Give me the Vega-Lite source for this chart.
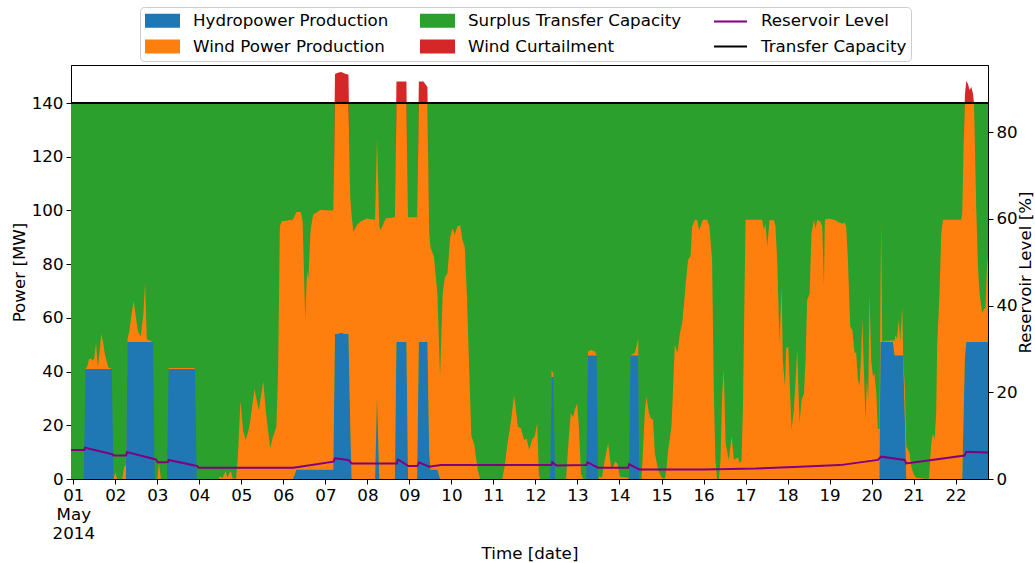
{
  "$schema": "https://vega.github.io/schema/vega-lite/v6.json",
  "width": 917,
  "height": 414,
  "autosize": {"type": "none"},
  "padding": {"left": 71, "top": 65, "right": 47, "bottom": 84},
  "background": "white",
  "datasets": {
    "production": [
      {"time": "2014-04-30T22:42", "hydro": 0, "wind": 0, "windCurtailed": 0},
      {"time": "2014-05-01T06:00", "hydro": 0, "wind": 0, "windCurtailed": 0},
      {"time": "2014-05-01T07:00", "hydro": 41, "wind": 0, "windCurtailed": 0},
      {"time": "2014-05-01T08:00", "hydro": 41, "wind": 1, "windCurtailed": 0},
      {"time": "2014-05-01T09:00", "hydro": 41, "wind": 3.5, "windCurtailed": 0},
      {"time": "2014-05-01T10:00", "hydro": 41, "wind": 4, "windCurtailed": 0},
      {"time": "2014-05-01T11:00", "hydro": 41, "wind": 3, "windCurtailed": 0},
      {"time": "2014-05-01T12:00", "hydro": 41, "wind": 4, "windCurtailed": 0},
      {"time": "2014-05-01T13:00", "hydro": 41, "wind": 9.5, "windCurtailed": 0},
      {"time": "2014-05-01T14:00", "hydro": 41, "wind": 0.5, "windCurtailed": 0},
      {"time": "2014-05-01T15:00", "hydro": 41, "wind": 6, "windCurtailed": 0},
      {"time": "2014-05-01T16:00", "hydro": 41, "wind": 13, "windCurtailed": 0},
      {"time": "2014-05-01T17:00", "hydro": 41, "wind": 10, "windCurtailed": 0},
      {"time": "2014-05-01T18:00", "hydro": 41, "wind": 5.5, "windCurtailed": 0},
      {"time": "2014-05-01T19:00", "hydro": 41, "wind": 3, "windCurtailed": 0},
      {"time": "2014-05-01T20:00", "hydro": 41, "wind": 0.5, "windCurtailed": 0},
      {"time": "2014-05-01T22:00", "hydro": 41, "wind": 0, "windCurtailed": 0},
      {"time": "2014-05-01T23:00", "hydro": 0, "wind": 0, "windCurtailed": 0},
      {"time": "2014-05-02T00:00", "hydro": 0, "wind": 2.5, "windCurtailed": 0},
      {"time": "2014-05-02T01:00", "hydro": 0, "wind": 0, "windCurtailed": 0},
      {"time": "2014-05-02T04:00", "hydro": 0, "wind": 0, "windCurtailed": 0},
      {"time": "2014-05-02T05:00", "hydro": 0, "wind": 4.5, "windCurtailed": 0},
      {"time": "2014-05-02T06:00", "hydro": 0, "wind": 5, "windCurtailed": 0},
      {"time": "2014-05-02T07:00", "hydro": 51, "wind": 1, "windCurtailed": 0},
      {"time": "2014-05-02T08:00", "hydro": 51, "wind": 4, "windCurtailed": 0},
      {"time": "2014-05-02T09:00", "hydro": 51, "wind": 9, "windCurtailed": 0},
      {"time": "2014-05-02T10:30", "hydro": 51, "wind": 15.4, "windCurtailed": 0},
      {"time": "2014-05-02T12:00", "hydro": 51, "wind": 8, "windCurtailed": 0},
      {"time": "2014-05-02T13:00", "hydro": 51, "wind": 4, "windCurtailed": 0},
      {"time": "2014-05-02T14:30", "hydro": 51, "wind": 2, "windCurtailed": 0},
      {"time": "2014-05-02T16:00", "hydro": 51, "wind": 10, "windCurtailed": 0},
      {"time": "2014-05-02T17:00", "hydro": 51, "wind": 22, "windCurtailed": 0},
      {"time": "2014-05-02T18:00", "hydro": 51, "wind": 1, "windCurtailed": 0},
      {"time": "2014-05-02T21:30", "hydro": 51, "wind": 0, "windCurtailed": 0},
      {"time": "2014-05-02T22:30", "hydro": 0, "wind": 0, "windCurtailed": 0},
      {"time": "2014-05-03T00:00", "hydro": 0, "wind": 0, "windCurtailed": 0},
      {"time": "2014-05-03T01:00", "hydro": 0, "wind": 6, "windCurtailed": 0},
      {"time": "2014-05-03T02:00", "hydro": 0, "wind": 0, "windCurtailed": 0},
      {"time": "2014-05-03T05:30", "hydro": 0, "wind": 0, "windCurtailed": 0},
      {"time": "2014-05-03T06:30", "hydro": 41, "wind": 0.3, "windCurtailed": 0},
      {"time": "2014-05-03T21:30", "hydro": 41, "wind": 0.3, "windCurtailed": 0},
      {"time": "2014-05-03T22:30", "hydro": 0, "wind": 0, "windCurtailed": 0},
      {"time": "2014-05-04T11:00", "hydro": 0, "wind": 0, "windCurtailed": 0},
      {"time": "2014-05-04T12:00", "hydro": 0, "wind": 1, "windCurtailed": 0},
      {"time": "2014-05-04T13:00", "hydro": 0, "wind": 0.3, "windCurtailed": 0},
      {"time": "2014-05-04T14:00", "hydro": 0, "wind": 1.5, "windCurtailed": 0},
      {"time": "2014-05-04T15:00", "hydro": 0, "wind": 3, "windCurtailed": 0},
      {"time": "2014-05-04T16:00", "hydro": 0, "wind": 0.5, "windCurtailed": 0},
      {"time": "2014-05-04T17:00", "hydro": 0, "wind": 2, "windCurtailed": 0},
      {"time": "2014-05-04T18:00", "hydro": 0, "wind": 3, "windCurtailed": 0},
      {"time": "2014-05-04T19:00", "hydro": 0, "wind": 0.3, "windCurtailed": 0},
      {"time": "2014-05-04T21:00", "hydro": 0, "wind": 0, "windCurtailed": 0},
      {"time": "2014-05-04T22:00", "hydro": 0, "wind": 8, "windCurtailed": 0},
      {"time": "2014-05-04T23:30", "hydro": 0, "wind": 29, "windCurtailed": 0},
      {"time": "2014-05-05T01:00", "hydro": 0, "wind": 18, "windCurtailed": 0},
      {"time": "2014-05-05T02:30", "hydro": 0, "wind": 14.5, "windCurtailed": 0},
      {"time": "2014-05-05T04:00", "hydro": 0, "wind": 18, "windCurtailed": 0},
      {"time": "2014-05-05T05:00", "hydro": 0, "wind": 21, "windCurtailed": 0},
      {"time": "2014-05-05T07:30", "hydro": 0, "wind": 33.5, "windCurtailed": 0},
      {"time": "2014-05-05T10:00", "hydro": 0, "wind": 25.5, "windCurtailed": 0},
      {"time": "2014-05-05T12:30", "hydro": 0, "wind": 36.5, "windCurtailed": 0},
      {"time": "2014-05-05T14:00", "hydro": 0, "wind": 25, "windCurtailed": 0},
      {"time": "2014-05-05T16:30", "hydro": 0, "wind": 11.5, "windCurtailed": 0},
      {"time": "2014-05-05T18:00", "hydro": 0, "wind": 15.5, "windCurtailed": 0},
      {"time": "2014-05-05T20:00", "hydro": 0, "wind": 19.5, "windCurtailed": 0},
      {"time": "2014-05-05T21:00", "hydro": 0, "wind": 40, "windCurtailed": 0},
      {"time": "2014-05-05T22:00", "hydro": 0, "wind": 94, "windCurtailed": 0},
      {"time": "2014-05-05T23:00", "hydro": 0, "wind": 96, "windCurtailed": 0},
      {"time": "2014-05-06T05:30", "hydro": 0, "wind": 96.5, "windCurtailed": 0},
      {"time": "2014-05-06T07:30", "hydro": 3.4, "wind": 96, "windCurtailed": 0},
      {"time": "2014-05-06T10:00", "hydro": 3.4, "wind": 96, "windCurtailed": 0},
      {"time": "2014-05-06T11:00", "hydro": 3.4, "wind": 92.6, "windCurtailed": 0},
      {"time": "2014-05-06T12:30", "hydro": 3.4, "wind": 56, "windCurtailed": 0},
      {"time": "2014-05-06T13:30", "hydro": 3.4, "wind": 74, "windCurtailed": 0},
      {"time": "2014-05-06T14:18", "hydro": 3.4, "wind": 71, "windCurtailed": 0},
      {"time": "2014-05-06T15:30", "hydro": 3.4, "wind": 89, "windCurtailed": 0},
      {"time": "2014-05-06T17:00", "hydro": 3.4, "wind": 95, "windCurtailed": 0},
      {"time": "2014-05-06T21:00", "hydro": 3.4, "wind": 96.8, "windCurtailed": 0},
      {"time": "2014-05-07T04:30", "hydro": 3.4, "wind": 96.6, "windCurtailed": 0},
      {"time": "2014-05-07T05:30", "hydro": 54, "wind": 86, "windCurtailed": 10.8},
      {"time": "2014-05-07T07:00", "hydro": 54, "wind": 86, "windCurtailed": 11.3},
      {"time": "2014-05-07T09:00", "hydro": 54.5, "wind": 85.5, "windCurtailed": 11.5},
      {"time": "2014-05-07T11:00", "hydro": 54, "wind": 86, "windCurtailed": 11},
      {"time": "2014-05-07T13:12", "hydro": 54, "wind": 86, "windCurtailed": 10.5},
      {"time": "2014-05-07T14:12", "hydro": 20, "wind": 85, "windCurtailed": 0},
      {"time": "2014-05-07T15:00", "hydro": 0, "wind": 98, "windCurtailed": 0},
      {"time": "2014-05-07T16:00", "hydro": 0, "wind": 92, "windCurtailed": 0},
      {"time": "2014-05-07T18:00", "hydro": 0, "wind": 94.6, "windCurtailed": 0},
      {"time": "2014-05-07T20:00", "hydro": 0, "wind": 95.8, "windCurtailed": 0},
      {"time": "2014-05-07T23:30", "hydro": 0, "wind": 97, "windCurtailed": 0},
      {"time": "2014-05-08T04:24", "hydro": 0, "wind": 96.5, "windCurtailed": 0},
      {"time": "2014-05-08T05:30", "hydro": 30.6, "wind": 96.2, "windCurtailed": 0},
      {"time": "2014-05-08T06:48", "hydro": 0, "wind": 94, "windCurtailed": 0},
      {"time": "2014-05-08T07:36", "hydro": 0, "wind": 92.7, "windCurtailed": 0},
      {"time": "2014-05-08T10:30", "hydro": 0, "wind": 97, "windCurtailed": 0},
      {"time": "2014-05-08T15:42", "hydro": 0, "wind": 97.5, "windCurtailed": 0},
      {"time": "2014-05-08T16:36", "hydro": 51, "wind": 89, "windCurtailed": 8},
      {"time": "2014-05-08T22:18", "hydro": 51, "wind": 89, "windCurtailed": 8},
      {"time": "2014-05-08T23:12", "hydro": 0, "wind": 97.5, "windCurtailed": 0},
      {"time": "2014-05-09T04:24", "hydro": 0, "wind": 97.5, "windCurtailed": 0},
      {"time": "2014-05-09T05:24", "hydro": 51, "wind": 89, "windCurtailed": 8},
      {"time": "2014-05-09T08:00", "hydro": 51, "wind": 89, "windCurtailed": 8},
      {"time": "2014-05-09T10:18", "hydro": 51, "wind": 89, "windCurtailed": 6},
      {"time": "2014-05-09T11:18", "hydro": 10, "wind": 82, "windCurtailed": 0},
      {"time": "2014-05-09T12:00", "hydro": 3.4, "wind": 83, "windCurtailed": 0},
      {"time": "2014-05-09T14:00", "hydro": 3.4, "wind": 79.4, "windCurtailed": 0},
      {"time": "2014-05-09T16:00", "hydro": 3.4, "wind": 65.7, "windCurtailed": 0},
      {"time": "2014-05-09T17:30", "hydro": 0, "wind": 38, "windCurtailed": 0},
      {"time": "2014-05-09T19:00", "hydro": 0, "wind": 69, "windCurtailed": 0},
      {"time": "2014-05-09T20:12", "hydro": 0, "wind": 75, "windCurtailed": 0},
      {"time": "2014-05-09T21:42", "hydro": 0, "wind": 76.5, "windCurtailed": 0},
      {"time": "2014-05-09T23:18", "hydro": 0, "wind": 90, "windCurtailed": 0},
      {"time": "2014-05-10T00:36", "hydro": 0, "wind": 93.3, "windCurtailed": 0},
      {"time": "2014-05-10T02:00", "hydro": 0, "wind": 91, "windCurtailed": 0},
      {"time": "2014-05-10T03:24", "hydro": 0, "wind": 94, "windCurtailed": 0},
      {"time": "2014-05-10T05:00", "hydro": 0, "wind": 94.6, "windCurtailed": 0},
      {"time": "2014-05-10T06:18", "hydro": 0, "wind": 89, "windCurtailed": 0},
      {"time": "2014-05-10T07:36", "hydro": 0, "wind": 86.5, "windCurtailed": 0},
      {"time": "2014-05-10T08:48", "hydro": 0, "wind": 69, "windCurtailed": 0},
      {"time": "2014-05-10T10:00", "hydro": 0, "wind": 44, "windCurtailed": 0},
      {"time": "2014-05-10T11:24", "hydro": 0, "wind": 16, "windCurtailed": 0},
      {"time": "2014-05-10T13:00", "hydro": 0, "wind": 13, "windCurtailed": 0},
      {"time": "2014-05-10T15:00", "hydro": 0, "wind": 3.4, "windCurtailed": 0},
      {"time": "2014-05-10T16:24", "hydro": 0, "wind": 0, "windCurtailed": 0},
      {"time": "2014-05-11T05:00", "hydro": 0, "wind": 0, "windCurtailed": 0},
      {"time": "2014-05-11T06:30", "hydro": 0, "wind": 5, "windCurtailed": 0},
      {"time": "2014-05-11T08:00", "hydro": 0, "wind": 13, "windCurtailed": 0},
      {"time": "2014-05-11T10:00", "hydro": 0, "wind": 21.3, "windCurtailed": 0},
      {"time": "2014-05-11T11:48", "hydro": 0, "wind": 31.3, "windCurtailed": 0},
      {"time": "2014-05-11T14:00", "hydro": 0, "wind": 19.5, "windCurtailed": 0},
      {"time": "2014-05-11T15:36", "hydro": 0, "wind": 19, "windCurtailed": 0},
      {"time": "2014-05-11T17:30", "hydro": 0, "wind": 14.5, "windCurtailed": 0},
      {"time": "2014-05-11T19:00", "hydro": 0, "wind": 15, "windCurtailed": 0},
      {"time": "2014-05-11T20:24", "hydro": 0, "wind": 10.8, "windCurtailed": 0},
      {"time": "2014-05-11T22:00", "hydro": 0, "wind": 14.5, "windCurtailed": 0},
      {"time": "2014-05-11T23:36", "hydro": 0, "wind": 16, "windCurtailed": 0},
      {"time": "2014-05-12T01:00", "hydro": 0, "wind": 20.7, "windCurtailed": 0},
      {"time": "2014-05-12T02:00", "hydro": 0, "wind": 1, "windCurtailed": 0},
      {"time": "2014-05-12T03:00", "hydro": 0, "wind": 0, "windCurtailed": 0},
      {"time": "2014-05-12T08:24", "hydro": 0, "wind": 0, "windCurtailed": 0},
      {"time": "2014-05-12T09:12", "hydro": 38, "wind": 2.5, "windCurtailed": 0},
      {"time": "2014-05-12T10:12", "hydro": 38, "wind": 1.5, "windCurtailed": 0},
      {"time": "2014-05-12T11:12", "hydro": 0, "wind": 0, "windCurtailed": 0},
      {"time": "2014-05-12T17:30", "hydro": 0, "wind": 0, "windCurtailed": 0},
      {"time": "2014-05-12T19:00", "hydro": 0, "wind": 15, "windCurtailed": 0},
      {"time": "2014-05-12T20:12", "hydro": 0, "wind": 24.5, "windCurtailed": 0},
      {"time": "2014-05-12T21:30", "hydro": 0, "wind": 23, "windCurtailed": 0},
      {"time": "2014-05-12T22:30", "hydro": 0, "wind": 25.7, "windCurtailed": 0},
      {"time": "2014-05-12T23:48", "hydro": 0, "wind": 28.2, "windCurtailed": 0},
      {"time": "2014-05-13T00:48", "hydro": 0, "wind": 19.5, "windCurtailed": 0},
      {"time": "2014-05-13T02:00", "hydro": 0, "wind": 2, "windCurtailed": 0},
      {"time": "2014-05-13T03:12", "hydro": 0, "wind": 0, "windCurtailed": 0},
      {"time": "2014-05-13T05:00", "hydro": 0, "wind": 0, "windCurtailed": 0},
      {"time": "2014-05-13T06:00", "hydro": 46, "wind": 1.5, "windCurtailed": 0},
      {"time": "2014-05-13T08:00", "hydro": 46, "wind": 2, "windCurtailed": 0},
      {"time": "2014-05-13T10:00", "hydro": 46, "wind": 1.5, "windCurtailed": 0},
      {"time": "2014-05-13T10:54", "hydro": 46, "wind": 0, "windCurtailed": 0},
      {"time": "2014-05-13T11:48", "hydro": 0, "wind": 0, "windCurtailed": 0},
      {"time": "2014-05-13T12:30", "hydro": 0, "wind": 0.8, "windCurtailed": 0},
      {"time": "2014-05-13T14:00", "hydro": 0, "wind": 0.5, "windCurtailed": 0},
      {"time": "2014-05-13T15:36", "hydro": 0, "wind": 7, "windCurtailed": 0},
      {"time": "2014-05-13T17:30", "hydro": 0, "wind": 13.3, "windCurtailed": 0},
      {"time": "2014-05-13T19:24", "hydro": 0, "wind": 3.4, "windCurtailed": 0},
      {"time": "2014-05-13T20:24", "hydro": 0, "wind": 4.6, "windCurtailed": 0},
      {"time": "2014-05-13T21:42", "hydro": 0, "wind": 6.5, "windCurtailed": 0},
      {"time": "2014-05-13T22:48", "hydro": 0, "wind": 5.8, "windCurtailed": 0},
      {"time": "2014-05-14T00:12", "hydro": 0, "wind": 0.8, "windCurtailed": 0},
      {"time": "2014-05-14T05:00", "hydro": 0, "wind": 0.5, "windCurtailed": 0},
      {"time": "2014-05-14T05:30", "hydro": 0, "wind": 0, "windCurtailed": 0},
      {"time": "2014-05-14T06:18", "hydro": 46, "wind": 0, "windCurtailed": 0},
      {"time": "2014-05-14T08:48", "hydro": 46, "wind": 1, "windCurtailed": 0},
      {"time": "2014-05-14T09:42", "hydro": 46, "wind": 3.3, "windCurtailed": 0},
      {"time": "2014-05-14T10:42", "hydro": 46, "wind": 6.4, "windCurtailed": 0},
      {"time": "2014-05-14T11:18", "hydro": 0, "wind": 0, "windCurtailed": 0},
      {"time": "2014-05-14T12:36", "hydro": 0, "wind": 0, "windCurtailed": 0},
      {"time": "2014-05-14T14:30", "hydro": 0, "wind": 25, "windCurtailed": 0},
      {"time": "2014-05-14T15:24", "hydro": 0, "wind": 30.6, "windCurtailed": 0},
      {"time": "2014-05-14T16:48", "hydro": 0, "wind": 24.5, "windCurtailed": 0},
      {"time": "2014-05-14T17:54", "hydro": 0, "wind": 22.6, "windCurtailed": 0},
      {"time": "2014-05-14T19:12", "hydro": 0, "wind": 22, "windCurtailed": 0},
      {"time": "2014-05-14T20:12", "hydro": 0, "wind": 9.6, "windCurtailed": 0},
      {"time": "2014-05-14T22:06", "hydro": 0, "wind": 3.4, "windCurtailed": 0},
      {"time": "2014-05-15T00:00", "hydro": 0, "wind": 0.6, "windCurtailed": 0},
      {"time": "2014-05-15T01:54", "hydro": 0, "wind": 0, "windCurtailed": 0},
      {"time": "2014-05-15T02:48", "hydro": 0, "wind": 3.4, "windCurtailed": 0},
      {"time": "2014-05-15T03:48", "hydro": 0, "wind": 10.8, "windCurtailed": 0},
      {"time": "2014-05-15T05:42", "hydro": 0, "wind": 19.5, "windCurtailed": 0},
      {"time": "2014-05-15T07:36", "hydro": 0, "wind": 49.9, "windCurtailed": 0},
      {"time": "2014-05-15T09:06", "hydro": 0, "wind": 47, "windCurtailed": 0},
      {"time": "2014-05-15T10:30", "hydro": 0, "wind": 54.2, "windCurtailed": 0},
      {"time": "2014-05-15T11:48", "hydro": 0, "wind": 58, "windCurtailed": 0},
      {"time": "2014-05-15T13:00", "hydro": 0, "wind": 66, "windCurtailed": 0},
      {"time": "2014-05-15T13:42", "hydro": 0, "wind": 72, "windCurtailed": 0},
      {"time": "2014-05-15T15:12", "hydro": 0, "wind": 81.5, "windCurtailed": 0},
      {"time": "2014-05-15T16:36", "hydro": 0, "wind": 83, "windCurtailed": 0},
      {"time": "2014-05-15T17:30", "hydro": 0, "wind": 94, "windCurtailed": 0},
      {"time": "2014-05-15T19:06", "hydro": 0, "wind": 96.5, "windCurtailed": 0},
      {"time": "2014-05-15T20:24", "hydro": 0, "wind": 96.3, "windCurtailed": 0},
      {"time": "2014-05-15T21:24", "hydro": 0, "wind": 92.7, "windCurtailed": 0},
      {"time": "2014-05-15T22:18", "hydro": 0, "wind": 94, "windCurtailed": 0},
      {"time": "2014-05-15T23:36", "hydro": 0, "wind": 96.5, "windCurtailed": 0},
      {"time": "2014-05-16T02:06", "hydro": 0, "wind": 96.5, "windCurtailed": 0},
      {"time": "2014-05-16T03:24", "hydro": 0, "wind": 94, "windCurtailed": 0},
      {"time": "2014-05-16T04:54", "hydro": 0, "wind": 81.5, "windCurtailed": 0},
      {"time": "2014-05-16T05:54", "hydro": 0, "wind": 31.9, "windCurtailed": 0},
      {"time": "2014-05-16T06:48", "hydro": 0, "wind": 7, "windCurtailed": 0},
      {"time": "2014-05-16T07:48", "hydro": 0, "wind": 0, "windCurtailed": 0},
      {"time": "2014-05-16T08:48", "hydro": 0, "wind": 0, "windCurtailed": 0},
      {"time": "2014-05-16T09:42", "hydro": 0, "wind": 7, "windCurtailed": 0},
      {"time": "2014-05-16T10:42", "hydro": 0, "wind": 31.9, "windCurtailed": 0},
      {"time": "2014-05-16T11:36", "hydro": 0, "wind": 40.6, "windCurtailed": 0},
      {"time": "2014-05-16T12:36", "hydro": 0, "wind": 13.3, "windCurtailed": 0},
      {"time": "2014-05-16T14:30", "hydro": 0, "wind": 7, "windCurtailed": 0},
      {"time": "2014-05-16T16:00", "hydro": 0, "wind": 15.8, "windCurtailed": 0},
      {"time": "2014-05-16T17:24", "hydro": 0, "wind": 7.2, "windCurtailed": 0},
      {"time": "2014-05-16T18:18", "hydro": 0, "wind": 7.5, "windCurtailed": 0},
      {"time": "2014-05-16T19:48", "hydro": 0, "wind": 8, "windCurtailed": 0},
      {"time": "2014-05-16T20:36", "hydro": 0, "wind": 5.8, "windCurtailed": 0},
      {"time": "2014-05-16T21:42", "hydro": 0, "wind": 7, "windCurtailed": 0},
      {"time": "2014-05-16T22:30", "hydro": 0, "wind": 25.7, "windCurtailed": 0},
      {"time": "2014-05-17T00:00", "hydro": 0, "wind": 96.5, "windCurtailed": 0},
      {"time": "2014-05-17T09:30", "hydro": 0, "wind": 96.5, "windCurtailed": 0},
      {"time": "2014-05-17T10:30", "hydro": 0, "wind": 92.7, "windCurtailed": 0},
      {"time": "2014-05-17T11:24", "hydro": 0, "wind": 95, "windCurtailed": 0},
      {"time": "2014-05-17T12:24", "hydro": 0, "wind": 86.5, "windCurtailed": 0},
      {"time": "2014-05-17T13:42", "hydro": 0, "wind": 96.3, "windCurtailed": 0},
      {"time": "2014-05-17T16:12", "hydro": 0, "wind": 96.3, "windCurtailed": 0},
      {"time": "2014-05-17T17:06", "hydro": 0, "wind": 94, "windCurtailed": 0},
      {"time": "2014-05-17T18:06", "hydro": 0, "wind": 81.5, "windCurtailed": 0},
      {"time": "2014-05-17T19:24", "hydro": 0, "wind": 50.5, "windCurtailed": 0},
      {"time": "2014-05-17T20:36", "hydro": 0, "wind": 71.6, "windCurtailed": 0},
      {"time": "2014-05-17T21:18", "hydro": 0, "wind": 44.3, "windCurtailed": 0},
      {"time": "2014-05-17T22:30", "hydro": 0, "wind": 34.4, "windCurtailed": 0},
      {"time": "2014-05-17T23:12", "hydro": 0, "wind": 48.7, "windCurtailed": 0},
      {"time": "2014-05-18T00:24", "hydro": 0, "wind": 49.3, "windCurtailed": 0},
      {"time": "2014-05-18T01:06", "hydro": 0, "wind": 38.1, "windCurtailed": 0},
      {"time": "2014-05-18T02:18", "hydro": 0, "wind": 18.2, "windCurtailed": 0},
      {"time": "2014-05-18T03:36", "hydro": 0, "wind": 25.7, "windCurtailed": 0},
      {"time": "2014-05-18T04:36", "hydro": 0, "wind": 37.1, "windCurtailed": 0},
      {"time": "2014-05-18T05:30", "hydro": 0, "wind": 48, "windCurtailed": 0},
      {"time": "2014-05-18T06:54", "hydro": 0, "wind": 20.7, "windCurtailed": 0},
      {"time": "2014-05-18T08:00", "hydro": 0, "wind": 29.4, "windCurtailed": 0},
      {"time": "2014-05-18T09:24", "hydro": 0, "wind": 31.9, "windCurtailed": 0},
      {"time": "2014-05-18T10:18", "hydro": 0, "wind": 44.3, "windCurtailed": 0},
      {"time": "2014-05-18T11:12", "hydro": 0, "wind": 66.6, "windCurtailed": 0},
      {"time": "2014-05-18T12:36", "hydro": 0, "wind": 69, "windCurtailed": 0},
      {"time": "2014-05-18T13:42", "hydro": 0, "wind": 91.5, "windCurtailed": 0},
      {"time": "2014-05-18T15:06", "hydro": 0, "wind": 96.5, "windCurtailed": 0},
      {"time": "2014-05-18T16:00", "hydro": 0, "wind": 93.3, "windCurtailed": 0},
      {"time": "2014-05-18T17:00", "hydro": 0, "wind": 96.5, "windCurtailed": 0},
      {"time": "2014-05-18T18:48", "hydro": 0, "wind": 95.8, "windCurtailed": 0},
      {"time": "2014-05-18T19:48", "hydro": 0, "wind": 94, "windCurtailed": 0},
      {"time": "2014-05-18T20:48", "hydro": 0, "wind": 71.6, "windCurtailed": 0},
      {"time": "2014-05-18T21:18", "hydro": 0, "wind": 96.5, "windCurtailed": 0},
      {"time": "2014-05-18T23:36", "hydro": 0, "wind": 97, "windCurtailed": 0},
      {"time": "2014-05-19T03:24", "hydro": 0, "wind": 96.3, "windCurtailed": 0},
      {"time": "2014-05-19T05:18", "hydro": 0, "wind": 95.5, "windCurtailed": 0},
      {"time": "2014-05-19T07:36", "hydro": 0, "wind": 95, "windCurtailed": 0},
      {"time": "2014-05-19T08:36", "hydro": 0, "wind": 95.5, "windCurtailed": 0},
      {"time": "2014-05-19T09:30", "hydro": 0, "wind": 94, "windCurtailed": 0},
      {"time": "2014-05-19T10:30", "hydro": 0, "wind": 81.5, "windCurtailed": 0},
      {"time": "2014-05-19T11:48", "hydro": 0, "wind": 56.7, "windCurtailed": 0},
      {"time": "2014-05-19T13:00", "hydro": 0, "wind": 55.5, "windCurtailed": 0},
      {"time": "2014-05-19T14:18", "hydro": 0, "wind": 47, "windCurtailed": 0},
      {"time": "2014-05-19T15:12", "hydro": 0, "wind": 47, "windCurtailed": 0},
      {"time": "2014-05-19T16:12", "hydro": 0, "wind": 37.1, "windCurtailed": 0},
      {"time": "2014-05-19T17:06", "hydro": 0, "wind": 34.4, "windCurtailed": 0},
      {"time": "2014-05-19T18:06", "hydro": 0, "wind": 47, "windCurtailed": 0},
      {"time": "2014-05-19T18:42", "hydro": 0, "wind": 59.8, "windCurtailed": 0},
      {"time": "2014-05-19T19:24", "hydro": 0, "wind": 44.3, "windCurtailed": 0},
      {"time": "2014-05-19T20:36", "hydro": 0, "wind": 22, "windCurtailed": 0},
      {"time": "2014-05-19T21:18", "hydro": 0, "wind": 37.1, "windCurtailed": 0},
      {"time": "2014-05-19T22:06", "hydro": 0, "wind": 29.4, "windCurtailed": 0},
      {"time": "2014-05-19T22:48", "hydro": 0, "wind": 69, "windCurtailed": 0},
      {"time": "2014-05-19T23:48", "hydro": 0, "wind": 44.3, "windCurtailed": 0},
      {"time": "2014-05-20T00:48", "hydro": 0, "wind": 38.1, "windCurtailed": 0},
      {"time": "2014-05-20T01:42", "hydro": 0, "wind": 39.3, "windCurtailed": 0},
      {"time": "2014-05-20T02:42", "hydro": 0, "wind": 31.9, "windCurtailed": 0},
      {"time": "2014-05-20T03:36", "hydro": 0, "wind": 18.2, "windCurtailed": 0},
      {"time": "2014-05-20T04:30", "hydro": 0, "wind": 19, "windCurtailed": 0},
      {"time": "2014-05-20T05:06", "hydro": 51, "wind": 20, "windCurtailed": 0},
      {"time": "2014-05-20T05:30", "hydro": 51, "wind": 44, "windCurtailed": 0},
      {"time": "2014-05-20T06:06", "hydro": 51, "wind": 0, "windCurtailed": 0},
      {"time": "2014-05-20T08:00", "hydro": 51, "wind": 0.5, "windCurtailed": 0},
      {"time": "2014-05-20T12:12", "hydro": 51, "wind": 0.6, "windCurtailed": 0},
      {"time": "2014-05-20T13:06", "hydro": 46, "wind": 5.6, "windCurtailed": 0},
      {"time": "2014-05-20T13:42", "hydro": 46, "wind": 7.6, "windCurtailed": 0},
      {"time": "2014-05-20T14:30", "hydro": 46, "wind": 6, "windCurtailed": 0},
      {"time": "2014-05-20T15:36", "hydro": 46, "wind": 13.2, "windCurtailed": 0},
      {"time": "2014-05-20T16:24", "hydro": 46, "wind": 5, "windCurtailed": 0},
      {"time": "2014-05-20T17:30", "hydro": 46, "wind": 18.2, "windCurtailed": 0},
      {"time": "2014-05-20T18:00", "hydro": 46, "wind": 1, "windCurtailed": 0},
      {"time": "2014-05-20T19:06", "hydro": 20, "wind": 12, "windCurtailed": 0},
      {"time": "2014-05-20T19:48", "hydro": 0, "wind": 12, "windCurtailed": 0},
      {"time": "2014-05-20T20:48", "hydro": 0, "wind": 11, "windCurtailed": 0},
      {"time": "2014-05-20T21:42", "hydro": 0, "wind": 9.6, "windCurtailed": 0},
      {"time": "2014-05-20T22:42", "hydro": 0, "wind": 4.6, "windCurtailed": 0},
      {"time": "2014-05-21T00:00", "hydro": 0, "wind": 1.9, "windCurtailed": 0},
      {"time": "2014-05-21T01:30", "hydro": 0, "wind": 0.5, "windCurtailed": 0},
      {"time": "2014-05-21T08:48", "hydro": 0, "wind": 0, "windCurtailed": 0},
      {"time": "2014-05-21T10:06", "hydro": 0, "wind": 13.3, "windCurtailed": 0},
      {"time": "2014-05-21T11:06", "hydro": 0, "wind": 17, "windCurtailed": 0},
      {"time": "2014-05-21T12:00", "hydro": 0, "wind": 14.5, "windCurtailed": 0},
      {"time": "2014-05-21T12:54", "hydro": 0, "wind": 24.5, "windCurtailed": 0},
      {"time": "2014-05-21T13:30", "hydro": 0, "wind": 50.5, "windCurtailed": 0},
      {"time": "2014-05-21T14:48", "hydro": 0, "wind": 69, "windCurtailed": 0},
      {"time": "2014-05-21T15:48", "hydro": 0, "wind": 91.5, "windCurtailed": 0},
      {"time": "2014-05-21T16:48", "hydro": 0, "wind": 96.5, "windCurtailed": 0},
      {"time": "2014-05-22T03:12", "hydro": 0, "wind": 96.5, "windCurtailed": 0},
      {"time": "2014-05-22T03:48", "hydro": 0, "wind": 98.7, "windCurtailed": 0},
      {"time": "2014-05-22T04:36", "hydro": 25, "wind": 100, "windCurtailed": 0},
      {"time": "2014-05-22T05:18", "hydro": 45, "wind": 95, "windCurtailed": 3},
      {"time": "2014-05-22T06:06", "hydro": 51, "wind": 89, "windCurtailed": 8.3},
      {"time": "2014-05-22T07:06", "hydro": 51, "wind": 89, "windCurtailed": 7},
      {"time": "2014-05-22T08:00", "hydro": 51, "wind": 89, "windCurtailed": 4.8},
      {"time": "2014-05-22T09:00", "hydro": 51, "wind": 89, "windCurtailed": 6},
      {"time": "2014-05-22T09:54", "hydro": 51, "wind": 89, "windCurtailed": 3.5},
      {"time": "2014-05-22T10:30", "hydro": 51, "wind": 89, "windCurtailed": 0},
      {"time": "2014-05-22T10:48", "hydro": 51, "wind": 80.2, "windCurtailed": 0},
      {"time": "2014-05-22T11:48", "hydro": 51, "wind": 49.2, "windCurtailed": 0},
      {"time": "2014-05-22T12:48", "hydro": 51, "wind": 28, "windCurtailed": 0},
      {"time": "2014-05-22T13:42", "hydro": 51, "wind": 18, "windCurtailed": 0},
      {"time": "2014-05-22T15:12", "hydro": 51, "wind": 10.7, "windCurtailed": 0},
      {"time": "2014-05-22T16:00", "hydro": 51, "wind": 12, "windCurtailed": 0},
      {"time": "2014-05-22T17:06", "hydro": 51, "wind": 13, "windCurtailed": 0},
      {"time": "2014-05-22T17:54", "hydro": 51, "wind": 28, "windCurtailed": 0},
      {"time": "2014-05-22T18:30", "hydro": 51, "wind": 31.8, "windCurtailed": 0}
    ],
    "capacity": [
      {"time": "2014-04-30T22:42", "capacity": 140},
      {"time": "2014-05-22T18:30", "capacity": 140}
    ],
    "reservoir": [
      {"time": "2014-04-30T22:42", "level": 6.7},
      {"time": "2014-05-01T06:18", "level": 6.7},
      {"time": "2014-05-01T06:42", "level": 7.2},
      {"time": "2014-05-01T22:30", "level": 5.7},
      {"time": "2014-05-01T22:54", "level": 5.4},
      {"time": "2014-05-02T06:06", "level": 5.4},
      {"time": "2014-05-02T06:42", "level": 6.2},
      {"time": "2014-05-02T23:12", "level": 4.5},
      {"time": "2014-05-03T00:12", "level": 3.85},
      {"time": "2014-05-03T05:54", "level": 3.85},
      {"time": "2014-05-03T06:30", "level": 4.4},
      {"time": "2014-05-03T22:42", "level": 3.0},
      {"time": "2014-05-03T23:36", "level": 2.6},
      {"time": "2014-05-06T05:42", "level": 2.6},
      {"time": "2014-05-07T04:36", "level": 4.0},
      {"time": "2014-05-07T05:30", "level": 4.76},
      {"time": "2014-05-07T13:06", "level": 4.4},
      {"time": "2014-05-07T15:06", "level": 3.6},
      {"time": "2014-05-08T16:48", "level": 3.6},
      {"time": "2014-05-08T17:30", "level": 4.5},
      {"time": "2014-05-08T23:24", "level": 3.0},
      {"time": "2014-05-09T04:36", "level": 3.0},
      {"time": "2014-05-09T05:24", "level": 3.84},
      {"time": "2014-05-09T11:18", "level": 2.84},
      {"time": "2014-05-09T18:00", "level": 3.2},
      {"time": "2014-05-12T09:12", "level": 3.2},
      {"time": "2014-05-12T09:42", "level": 3.84},
      {"time": "2014-05-12T11:54", "level": 3.1},
      {"time": "2014-05-13T05:06", "level": 3.2},
      {"time": "2014-05-13T05:42", "level": 3.84},
      {"time": "2014-05-13T11:48", "level": 2.6},
      {"time": "2014-05-14T05:00", "level": 2.6},
      {"time": "2014-05-14T05:30", "level": 3.4},
      {"time": "2014-05-14T11:18", "level": 2.2},
      {"time": "2014-05-16T00:00", "level": 2.2},
      {"time": "2014-05-17T06:00", "level": 2.4},
      {"time": "2014-05-18T07:00", "level": 2.8},
      {"time": "2014-05-19T06:00", "level": 3.2},
      {"time": "2014-05-20T03:36", "level": 4.4},
      {"time": "2014-05-20T05:30", "level": 5.15},
      {"time": "2014-05-20T18:54", "level": 4.4},
      {"time": "2014-05-20T19:48", "level": 3.6},
      {"time": "2014-05-22T05:06", "level": 5.4},
      {"time": "2014-05-22T06:06", "level": 6.3},
      {"time": "2014-05-22T18:30", "level": 6.1}
    ]
  },
  "layer": [
    {
      "layer": [
        {
          "data": {"name": "capacity"},
          "mark": {"type": "area", "interpolate": "linear"},
          "encoding": {
            "x": {
              "field": "time", "type": "temporal",
              "scale": {"domain": [{"year": 2014, "month": "apr", "date": 30, "hours": 22, "minutes": 42}, {"year": 2014, "month": "may", "date": 22, "hours": 18, "minutes": 30}]},
              "axis": {
                "title": "Time [date]",
                "tickCount": {"interval": "day", "step": 1},
                "labelExpr": "date(datum.value) == 1 ? ['01', 'May', '2014'] : timeFormat(datum.value, '%d')",
                "labelLineHeight": 19,
                "labelAngle": 0,
                "labelAlign": "center",
                "labelBaseline": "top",
                "labelFlush": false,
                "labelOverlap": false,
                "titlePadding": 4
              }
            },
            "y": {
              "field": "capacity", "type": "quantitative", "stack": null,
              "scale": {"domain": [0, 154.15], "nice": false, "zero": true},
              "axis": {"title": "Power [MW]", "values": [0, 20, 40, 60, 80, 100, 120, 140], "titlePadding": 3}
            },
            "color": {
              "datum": "surplus",
              "scale": {
                "domain": ["hydro", "surplus", "reservoir", "wind", "windCurtailed", "capacity"],
                "range": ["#1f77b4", "#2ca02c", "#800080", "#ff7f0e", "#d62728", "#000000"]
              },
              "legend": {
                "orient": "none",
                "legendX": 69,
                "legendY": -58,
                "columns": 3,
                "direction": "horizontal",
                "title": null,
                "labelExpr": "datum.value == 'hydro' ? 'Hydropower Production' : datum.value == 'wind' ? 'Wind Power Production' : datum.value == 'surplus' ? 'Surplus Transfer Capacity' : datum.value == 'windCurtailed' ? 'Wind Curtailment' : datum.value == 'reservoir' ? 'Reservoir Level' : 'Transfer Capacity'",
                "labelFont": "DejaVu Sans",
                "labelFontSize": 16.7,
                "labelColor": "#000000",
                "labelLimit": 0,
                "labelOffset": 21,
                "symbolSize": 272.25,
                "symbolOffset": 9,
                "padding": 4,
                "rowPadding": 5,
                "columnPadding": 28,
                "gridAlign": "each",
                "strokeColor": "#cccccc",
                "fillColor": "#ffffff",
                "cornerRadius": 4,
                "encode": {
                  "symbols": {
                    "update": {
                      "shape": {"signal": "datum.value == 'reservoir' || datum.value == 'capacity' ? 'M-2,0H2' : 'M-2,-0.72H2V0.72H-2Z'"},
                      "fill": [
                        {"test": "datum.value == 'reservoir' || datum.value == 'capacity'", "value": "transparent"},
                        {"scale": "color", "field": "value"}
                      ],
                      "stroke": [
                        {"test": "datum.value == 'reservoir' || datum.value == 'capacity'", "scale": "color", "field": "value"},
                        {"value": "transparent"}
                      ],
                      "strokeWidth": {"value": 2},
                      "opacity": {"value": 1},
                      "fillOpacity": {"value": 1},
                      "strokeOpacity": {"value": 1}
                    }
                  }
                }
              }
            }
          }
        },
        {
          "data": {"name": "production"},
          "transform": [
            {"fold": ["hydro", "wind", "windCurtailed"], "as": ["source", "mw"]}
          ],
          "mark": {"type": "area", "interpolate": "linear"},
          "encoding": {
            "x": {"field": "time", "type": "temporal"},
            "y": {
              "field": "mw", "type": "quantitative", "stack": "zero",
              "axis": {"title": "Power [MW]", "values": [0, 20, 40, 60, 80, 100, 120, 140], "titlePadding": 3}
            },
            "color": {
              "field": "source", "type": "nominal",
              "legend": {
                "orient": "none",
                "legendX": 69,
                "legendY": -58,
                "columns": 3,
                "direction": "horizontal",
                "title": null,
                "labelLimit": 0
              }
            },
            "order": {"field": "source", "sort": "ascending"}
          }
        },
        {
          "data": {"name": "capacity"},
          "mark": {"type": "line", "strokeWidth": 2},
          "encoding": {
            "x": {"field": "time", "type": "temporal"},
            "y": {
              "field": "capacity", "type": "quantitative",
              "axis": {"title": "Power [MW]", "values": [0, 20, 40, 60, 80, 100, 120, 140], "titlePadding": 3}
            },
            "color": {"datum": "capacity"}
          }
        }
      ]
    },
    {
      "data": {"name": "reservoir"},
      "mark": {"type": "line", "strokeWidth": 2},
      "encoding": {
        "x": {"field": "time", "type": "temporal"},
        "y": {
          "field": "level", "type": "quantitative",
          "scale": {"domain": [0, 95.45], "nice": false, "zero": true},
          "axis": {
            "orient": "right",
            "title": "Reservoir Level [%]",
            "values": [0, 20, 40, 60, 80],
            "titleAngle": 270,
            "titleBaseline": "top",
            "titlePadding": 0
          }
        },
        "color": {"datum": "reservoir"}
      }
    }
  ],
  "resolve": {"scale": {"y": "independent"}},
  "config": {
    "font": "DejaVu Sans",
    "view": {"stroke": "#000000", "strokeWidth": 1},
    "axis": {
      "labelFont": "DejaVu Sans",
      "titleFont": "DejaVu Sans",
      "labelFontSize": 16.7,
      "titleFontSize": 16.7,
      "titleFontWeight": "normal",
      "labelColor": "#000000",
      "titleColor": "#000000",
      "tickColor": "#000000",
      "domainColor": "#000000",
      "grid": false,
      "tickSize": 5,
      "tickWidth": 1,
      "domainWidth": 1,
      "labelPadding": 3
    }
  }
}
